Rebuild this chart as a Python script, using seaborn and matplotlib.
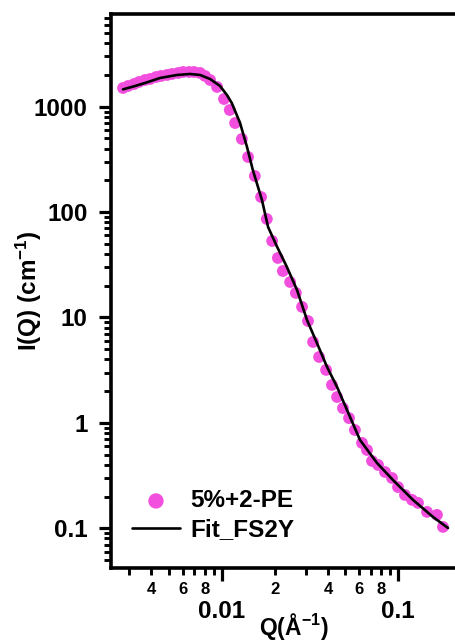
import numpy as np
import pandas as pd
import matplotlib
matplotlib.use("Agg")
import matplotlib.pyplot as plt
import matplotlib.ticker as mticker
import seaborn as sns

# Measured SANS intensity, 5% sample with 2-PE
q_data = [0.00276, 0.00295, 0.00319, 0.00340, 0.00368, 0.00393, 0.00425, 0.00453,
          0.00490, 0.00523, 0.00566, 0.00604, 0.00653, 0.00697, 0.00754, 0.00804,
          0.00859, 0.00941, 0.0103, 0.0111, 0.0119, 0.0130, 0.0141, 0.0154,
          0.0167, 0.0180, 0.0193, 0.0208, 0.0222, 0.0244, 0.0263, 0.0285,
          0.0308, 0.0329, 0.0356, 0.0390, 0.0421, 0.0450, 0.0486, 0.0526,
          0.0568, 0.0623, 0.0665, 0.0710, 0.0768, 0.0841, 0.0921, 0.0996,
          0.1091, 0.1196, 0.1293, 0.1454, 0.1656, 0.1791]
i_data = [1504, 1572, 1642, 1716, 1792, 1831, 1913, 1956,
          1999, 2043, 2088, 2134, 2134, 2134, 2088, 1956,
          1792, 1538, 1183, 930, 700, 494, 333, 220,
          139, 86.0, 53.2, 36.7, 27.6, 21.7, 17.1, 12.6,
          9.26, 5.86, 4.22, 3.18, 2.29, 1.76, 1.38, 1.11,
          0.856, 0.645, 0.553, 0.435, 0.399, 0.342, 0.300, 0.246,
          0.207, 0.186, 0.174, 0.143, 0.134, 0.103]

# FS2Y model fit
q_fit = [0.00276, 0.00323, 0.00368, 0.00447, 0.00558, 0.00661, 0.00754, 0.00859,
         0.00978, 0.0107, 0.0114, 0.0127, 0.0139, 0.0150, 0.0169, 0.0183,
         0.0206, 0.0234, 0.0267, 0.0304, 0.0346, 0.0395, 0.0450, 0.0512,
         0.0607, 0.0758, 0.0933, 0.1211, 0.1573, 0.1912]
i_fit = [1460, 1572, 1679, 1872, 1999, 2043, 1999, 1831,
         1572, 1291, 1084, 700, 415, 251, 130, 72.2,
         46.7, 30.1, 18.2, 9.47, 5.73, 3.39, 2.19, 1.33,
         0.688, 0.416, 0.287, 0.186, 0.128, 0.1006]

data_label = "5%+2-PE"
fit_label = "Fit_FS2Y"

df_data = pd.DataFrame({"Q": q_data, "I": i_data, "set": data_label})
df_fit = pd.DataFrame({"Q": q_fit, "I": i_fit, "set": fit_label})

sns.set_style("ticks")
plt.rcParams["font.family"] = ["Liberation Sans", "DejaVu Sans"]
plt.rcParams["font.weight"] = "bold"
plt.rcParams["text.color"] = "black"
plt.rcParams["axes.labelcolor"] = "black"
plt.rcParams["axes.edgecolor"] = "black"
plt.rcParams["xtick.color"] = "black"
plt.rcParams["ytick.color"] = "black"
plt.rcParams["mathtext.fontset"] = "custom"
plt.rcParams["mathtext.bf"] = "Liberation Sans:bold"
plt.rcParams["mathtext.rm"] = "Liberation Sans:bold"
plt.rcParams["mathtext.default"] = "bf"

fig = plt.figure(figsize=(4.55, 6.41), dpi=100)
ax = fig.add_axes([0.244, 0.1139, 0.756, 0.8643])

pink = "#F24FDF"
sns.scatterplot(data=df_data, x="Q", y="I", ax=ax, color=pink, s=72,
                edgecolor="none", linewidth=0, label=data_label, zorder=2)
sns.lineplot(data=df_fit, x="Q", y="I", ax=ax, color="black", lw=1.9,
             sort=False, estimator=None, label=fit_label, zorder=3)

ax.set_xscale("log")
ax.set_yscale("log")
ax.set_xlim(0.00236, 0.2095)
ax.set_ylim(0.0420, 7580)

# Axes frame: left, bottom and top only
for side in ("left", "bottom", "top"):
    ax.spines[side].set_linewidth(2.6)
    ax.spines[side].set_color("black")
ax.spines["right"].set_visible(False)

# y ticks: labelled decades, unlabelled minors
ax.yaxis.set_major_locator(mticker.FixedLocator([0.1, 1, 10, 100, 1000]))
ax.yaxis.set_major_formatter(mticker.FixedFormatter(["0.1", "1", "10", "100", "1000"]))
ax.yaxis.set_minor_locator(mticker.LogLocator(base=10, subs=np.arange(2, 10), numticks=20))
ax.yaxis.set_minor_formatter(mticker.NullFormatter())

# x ticks: decades labelled on a lower row, minors labelled 2, 4, 6, 8
ax.xaxis.set_major_locator(mticker.FixedLocator([0.01, 0.1]))
ax.xaxis.set_major_formatter(mticker.FixedFormatter(["0.01", "0.1"]))
x_minor = [m * 10.0 ** e for e in (-3, -2) for m in range(2, 10)]
x_minor = [v for v in x_minor if v > 0.00236]
ax.xaxis.set_minor_locator(mticker.FixedLocator(x_minor))

def minor_fmt(v, pos):
    mant = int(round(v / 10 ** np.floor(np.log10(v) + 1e-9)))
    return str(mant) if mant in (2, 4, 6, 8) else ""

ax.xaxis.set_minor_formatter(mticker.FuncFormatter(minor_fmt))

ax.tick_params(axis="both", which="major", direction="out", length=9, width=2.3,
               labelsize=17.5, top=False, right=False, colors="black")
ax.tick_params(axis="both", which="minor", direction="out", length=5, width=2.1,
               top=False, right=False, colors="black")
ax.tick_params(axis="y", which="major", pad=8)
ax.tick_params(axis="x", which="major", pad=14)
ax.tick_params(axis="x", which="minor", labelsize=12, pad=5)
for lab in ax.get_xticklabels(which="both") + ax.get_yticklabels():
    lab.set_fontweight("bold")

ax.set_xlabel("Q(Å$^{-1}$)", fontsize=16.5, fontweight="bold")
ax.set_ylabel("I(Q) (cm$^{-1}$)", fontsize=17.5, fontweight="bold")
ax.xaxis.set_label_coords(0.53, -0.077)
ax.yaxis.set_label_coords(-0.195, 0.50)

leg = ax.legend(loc="upper left", bbox_to_anchor=(0.06, 0.142), frameon=False,
                fontsize=17.5, handlelength=2.0, handletextpad=0.4,
                labelspacing=0.25, borderpad=0, borderaxespad=0, markerscale=1.3)
for t in leg.get_texts():
    t.set_fontweight("bold")
    t.set_color("black")

fig.savefig("out.png", dpi=100)
